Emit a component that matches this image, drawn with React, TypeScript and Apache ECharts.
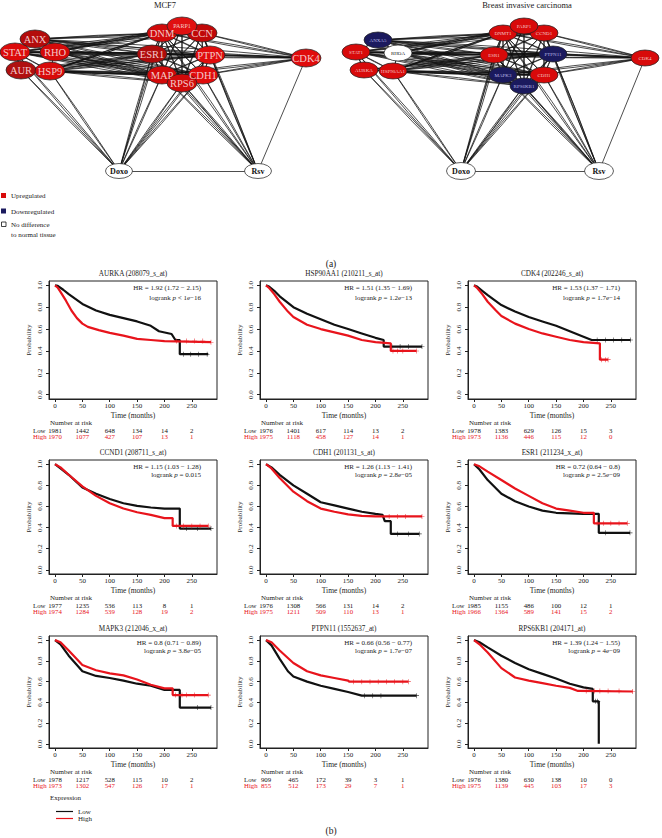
import React, { useEffect, useRef } from "react";
import * as echarts from "echarts";

type Pt = [number, number];

const W = 662;
const H = 838;
const FONT = '"Liberation Serif", "DejaVu Serif", "Times New Roman", serif';
const RED = "#e8141c";
const BLACK = "#111111";
const NODE_RED = "#d80a0a";
const NODE_NAVY = "#1b1a5e";

// ---------------- Network (a) ----------------
const MCF7_POS: Record<string, [number, number]> = {
  ANXA5: [35, 39], STAT1: [15, 52], RHOA: [55, 52], AURKA: [21, 70], HSP90AA1: [50, 71],
  DNMT1: [162, 33], PARP1: [182, 26], CCND1: [202, 33], ESR1: [152, 54], PTPN11: [210, 55],
  MAPK3: [162, 75], CDH1: [203, 75], RPS6KB1: [182, 83], CDK4: [306, 58], Doxo: [119, 171], Rsv: [258, 171],
};
const BRCA_POS: Record<string, [number, number]> = {
  ANXA5: [378, 40], STAT1: [356, 52], RHOA: [398, 53], AURKA: [364, 70], HSP90AA1: [393, 71],
  DNMT1: [503, 33], PARP1: [524, 26], CCND1: [544, 33], ESR1: [494, 55], PTPN11: [553, 54],
  MAPK3: [503, 75], CDH1: [544, 75], RPS6KB1: [524, 86], CDK4: [645, 58], Doxo: [461, 171], Rsv: [599, 171],
};
const NODE_ORDER = ["Doxo", "Rsv", "ANXA5", "STAT1", "RHOA", "AURKA", "HSP90AA1", "DNMT1", "CCND1", "PARP1", "ESR1", "PTPN11", "MAPK3", "CDH1", "RPS6KB1", "CDK4"];
const MCF7_COLORS: Record<string, string> = {
  ANXA5: "#b30c0c", STAT1: "#dc0b0b", RHOA: "#d40a0a", AURKA: "#b01010", HSP90AA1: "#d80a0a",
  DNMT1: "#d00a0a", PARP1: "#e01010", CCND1: "#c00808", ESR1: "#b00c0c", PTPN11: "#e00c0c",
  MAPK3: "#d20a0a", CDH1: "#e00c0c", RPS6KB1: "#d00a0a", CDK4: "#e00c0c", Doxo: "#ffffff", Rsv: "#ffffff",
};
const BRCA_COLORS: Record<string, string> = {
  ANXA5: NODE_NAVY, STAT1: NODE_RED, RHOA: "#ffffff", AURKA: NODE_RED, HSP90AA1: NODE_RED,
  DNMT1: NODE_RED, PARP1: NODE_RED, CCND1: NODE_RED, ESR1: NODE_RED, PTPN11: NODE_NAVY,
  MAPK3: NODE_NAVY, CDH1: NODE_RED, RPS6KB1: NODE_NAVY, CDK4: NODE_RED, Doxo: "#ffffff", Rsv: "#ffffff",
};
const EDGES: [string, string][] = [
  ["ANXA5", "STAT1"], ["ANXA5", "RHOA"], ["STAT1", "RHOA"], ["STAT1", "AURKA"], ["RHOA", "HSP90AA1"], ["AURKA", "HSP90AA1"], ["STAT1", "HSP90AA1"],
  ["ANXA5", "DNMT1"], ["ANXA5", "CCND1"], ["ANXA5", "ESR1"], ["ANXA5", "PTPN11"], ["ANXA5", "MAPK3"], ["ANXA5", "CDH1"],
  ["STAT1", "DNMT1"], ["STAT1", "CCND1"], ["STAT1", "ESR1"], ["STAT1", "PTPN11"], ["STAT1", "MAPK3"], ["STAT1", "CDH1"], ["STAT1", "RPS6KB1"],
  ["RHOA", "DNMT1"], ["RHOA", "PARP1"], ["RHOA", "ESR1"], ["RHOA", "PTPN11"], ["RHOA", "MAPK3"], ["RHOA", "CDH1"], ["RHOA", "RPS6KB1"],
  ["AURKA", "ESR1"], ["AURKA", "MAPK3"], ["AURKA", "CDH1"], ["AURKA", "PTPN11"],
  ["HSP90AA1", "DNMT1"], ["HSP90AA1", "ESR1"], ["HSP90AA1", "PTPN11"], ["HSP90AA1", "MAPK3"], ["HSP90AA1", "CDH1"], ["HSP90AA1", "RPS6KB1"], ["HSP90AA1", "PARP1"],
  ["DNMT1", "PARP1"], ["DNMT1", "CCND1"], ["DNMT1", "ESR1"], ["DNMT1", "PTPN11"], ["DNMT1", "MAPK3"], ["DNMT1", "CDH1"], ["DNMT1", "RPS6KB1"],
  ["PARP1", "CCND1"], ["PARP1", "ESR1"], ["PARP1", "PTPN11"], ["PARP1", "MAPK3"], ["PARP1", "RPS6KB1"],
  ["CCND1", "ESR1"], ["CCND1", "PTPN11"], ["CCND1", "MAPK3"], ["CCND1", "CDH1"], ["CCND1", "RPS6KB1"],
  ["ESR1", "PTPN11"], ["ESR1", "MAPK3"], ["ESR1", "CDH1"], ["ESR1", "RPS6KB1"],
  ["PTPN11", "MAPK3"], ["PTPN11", "CDH1"], ["PTPN11", "RPS6KB1"],
  ["MAPK3", "CDH1"], ["MAPK3", "RPS6KB1"], ["CDH1", "RPS6KB1"],
  ["CDK4", "DNMT1"], ["CDK4", "CCND1"], ["CDK4", "ESR1"], ["CDK4", "PTPN11"], ["CDK4", "CDH1"], ["CDK4", "MAPK3"], ["CDK4", "ANXA5"], ["CDK4", "STAT1"],
  ["Doxo", "STAT1"], ["Doxo", "AURKA"], ["Doxo", "HSP90AA1"], ["Doxo", "ESR1"], ["Doxo", "MAPK3"], ["Doxo", "RPS6KB1"], ["Doxo", "CDH1"], ["Doxo", "DNMT1"], ["Doxo", "PTPN11"],
  ["Rsv", "ESR1"], ["Rsv", "MAPK3"], ["Rsv", "RPS6KB1"], ["Rsv", "CDH1"], ["Rsv", "PTPN11"], ["Rsv", "DNMT1"], ["Rsv", "CCND1"],
];
const SINGLE_EDGES: [string, string][] = [["Doxo", "Rsv"], ["Rsv", "CDK4"]];

// ---------------- Kaplan-Meier panels (b) ----------------
const TITLES = [
  "AURKA (208079_s_at)", "HSP90AA1 (210211_s_at)", "CDK4 (202246_s_at)",
  "CCND1 (208711_s_at)", "CDH1 (201131_s_at)", "ESR1 (211234_x_at)",
  "MAPK3 (212046_x_at)", "PTPN11 (1552637_at)", "RPS6KB1 (204171_at)",
];
const HR_TEXT = [
  "HR = 1.92 (1.72 \u2212 2.15)", "HR = 1.51 (1.35 \u2212 1.69)", "HR = 1.53 (1.37 \u2212 1.71)",
  "HR = 1.15 (1.03 \u2212 1.28)", "HR = 1.26 (1.13 \u2212 1.41)", "HR = 0.72 (0.64 \u2212 0.8)",
  "HR = 0.8 (0.71 \u2212 0.89)", "HR = 0.66 (0.56 \u2212 0.77)", "HR = 1.39 (1.24 \u2212 1.55)",
];
const P_TEXT = [
  "< 1e\u221216", "= 1.2e\u221213", "= 1.7e\u221214",
  "= 0.015", "= 2.8e\u221205", "= 2.5e\u221209",
  "= 3.8e\u221205", "= 1.7e\u221207", "= 4e\u221209",
];
const NAR_LOW = [
  [1981, 1442, 648, 134, 14, 2], [1976, 1401, 617, 114, 13, 2], [1978, 1383, 629, 126, 15, 3],
  [1977, 1235, 536, 113, 8, 1], [1976, 1308, 566, 131, 14, 2], [1985, 1155, 486, 100, 12, 1],
  [1978, 1217, 528, 115, 10, 2], [909, 465, 172, 39, 3, 1], [1976, 1380, 630, 138, 10, 0],
];
const NAR_HIGH = [
  [1970, 1077, 427, 107, 13, 1], [1975, 1118, 458, 127, 14, 1], [1973, 1136, 446, 115, 12, 0],
  [1974, 1284, 539, 128, 19, 2], [1975, 1211, 509, 110, 13, 1], [1966, 1364, 589, 141, 15, 2],
  [1973, 1302, 547, 126, 17, 1], [855, 512, 173, 29, 7, 1], [1975, 1139, 445, 103, 17, 3],
];
const TIME_TICKS = [0, 50, 100, 150, 200, 250];
const PROB_TICKS = [0, 0.2, 0.4, 0.6, 0.8, 1.0];

const AURKA_LOW: Pt[] = [[0, 1], [5, 0.995], [15, 0.96], [25, 0.92], [50, 0.83], [75, 0.77], [100, 0.73], [125, 0.7], [150, 0.67], [175, 0.63], [190, 0.58], [213, 0.555], [220, 0.5], [228, 0.5], [228, 0.37], [280, 0.37]];
const AURKA_HIGH: Pt[] = [[0, 1], [5, 0.98], [10, 0.94], [20, 0.86], [30, 0.77], [40, 0.7], [50, 0.65], [60, 0.62], [80, 0.59], [100, 0.565], [125, 0.54], [150, 0.51], [175, 0.5], [200, 0.49], [285, 0.48]];
const HSP_LOW: Pt[] = [[0, 1], [5, 0.99], [15, 0.95], [25, 0.9], [50, 0.8], [75, 0.74], [100, 0.69], [125, 0.64], [150, 0.6], [175, 0.56], [200, 0.52], [215, 0.5], [215, 0.44], [285, 0.44]];
const HSP_HIGH: Pt[] = [[0, 1], [5, 0.98], [15, 0.92], [25, 0.85], [40, 0.76], [50, 0.71], [75, 0.64], [100, 0.6], [125, 0.57], [150, 0.54], [175, 0.5], [200, 0.48], [228, 0.47], [228, 0.4], [275, 0.4]];
const CDK4_LOW: Pt[] = [[0, 1], [5, 0.99], [15, 0.95], [25, 0.91], [50, 0.82], [75, 0.76], [100, 0.71], [125, 0.67], [150, 0.63], [175, 0.58], [200, 0.53], [215, 0.5], [286, 0.5]];
const CDK4_HIGH: Pt[] = [[0, 1], [5, 0.98], [15, 0.92], [25, 0.85], [40, 0.77], [50, 0.72], [75, 0.65], [100, 0.6], [125, 0.56], [150, 0.53], [175, 0.5], [200, 0.48], [230, 0.47], [230, 0.32], [245, 0.32]];
const CCND1_LOW: Pt[] = [[0, 1], [10, 0.96], [25, 0.9], [50, 0.78], [75, 0.72], [100, 0.67], [125, 0.63], [150, 0.605], [175, 0.59], [200, 0.58], [228, 0.58], [228, 0.39], [285, 0.39]];
const CCND1_HIGH: Pt[] = [[0, 1], [10, 0.97], [25, 0.9], [50, 0.79], [75, 0.7], [100, 0.63], [125, 0.58], [150, 0.545], [175, 0.52], [200, 0.49], [215, 0.49], [215, 0.415], [280, 0.415]];
const CDH1_LOW: Pt[] = [[0, 1], [10, 0.97], [25, 0.9], [50, 0.8], [75, 0.72], [100, 0.64], [125, 0.61], [150, 0.58], [175, 0.55], [200, 0.53], [213, 0.52], [217, 0.46], [228, 0.46], [228, 0.34], [280, 0.34]];
const CDH1_HIGH: Pt[] = [[0, 1], [10, 0.96], [25, 0.87], [50, 0.74], [75, 0.65], [100, 0.58], [125, 0.55], [150, 0.525], [175, 0.51], [200, 0.505], [285, 0.505]];
const ESR1_LOW: Pt[] = [[0, 1], [10, 0.95], [25, 0.85], [50, 0.72], [75, 0.65], [100, 0.6], [125, 0.56], [150, 0.54], [175, 0.535], [200, 0.53], [228, 0.53], [228, 0.35], [285, 0.35]];
const ESR1_HIGH: Pt[] = [[0, 1], [10, 0.98], [25, 0.93], [50, 0.85], [75, 0.77], [100, 0.7], [125, 0.63], [150, 0.58], [175, 0.56], [200, 0.54], [219, 0.54], [219, 0.44], [280, 0.44]];
const MAPK3_LOW: Pt[] = [[0, 1], [10, 0.96], [25, 0.85], [40, 0.76], [50, 0.7], [75, 0.655], [100, 0.635], [125, 0.61], [150, 0.58], [175, 0.56], [200, 0.52], [228, 0.52], [228, 0.35], [285, 0.35]];
const MAPK3_HIGH: Pt[] = [[0, 1], [10, 0.98], [25, 0.9], [50, 0.76], [75, 0.71], [100, 0.68], [125, 0.66], [150, 0.62], [175, 0.57], [200, 0.535], [215, 0.535], [215, 0.47], [280, 0.47]];
const PTPN11_LOW: Pt[] = [[0, 1], [10, 0.95], [25, 0.82], [40, 0.7], [50, 0.65], [75, 0.6], [100, 0.56], [125, 0.53], [150, 0.5], [175, 0.465], [275, 0.465]];
const PTPN11_HIGH: Pt[] = [[0, 1], [10, 0.98], [25, 0.9], [50, 0.78], [75, 0.7], [100, 0.66], [125, 0.635], [150, 0.61], [152, 0.6], [260, 0.6]];
const RPS6KB1_LOW: Pt[] = [[0, 1], [10, 0.98], [25, 0.93], [50, 0.85], [75, 0.78], [100, 0.72], [125, 0.675], [150, 0.63], [175, 0.58], [200, 0.545], [217, 0.53], [217, 0.41], [228, 0.41], [228, 0]];
const RPS6KB1_HIGH: Pt[] = [[0, 1], [10, 0.96], [25, 0.88], [50, 0.73], [75, 0.64], [100, 0.61], [125, 0.585], [150, 0.56], [175, 0.54], [190, 0.51], [290, 0.505]];

const CURVES_LOW = [AURKA_LOW, HSP_LOW, CDK4_LOW, CCND1_LOW, CDH1_LOW, ESR1_LOW, MAPK3_LOW, PTPN11_LOW, RPS6KB1_LOW];
const CURVES_HIGH = [AURKA_HIGH, HSP_HIGH, CDK4_HIGH, CCND1_HIGH, CDH1_HIGH, ESR1_HIGH, MAPK3_HIGH, PTPN11_HIGH, RPS6KB1_HIGH];
const CENS_LOW = [
  [235, 248, 262, 278], [230, 245, 260, 285], [225, 240, 255, 270, 286],
  [240, 260, 285], [240, 260, 280], [240, 285],
  [260, 285], [180, 195, 210, 275], [222, 226],
];
const CENS_HIGH = [
  [222, 240, 255, 270, 285], [232, 240, 250, 275], [233, 240, 245],
  [222, 235, 250, 265, 280], [225, 240, 255, 285], [225, 237, 250, 265, 280],
  [220, 232, 240, 255, 280], [160, 175, 190, 205, 220, 235, 250, 260], [205, 220, 230, 245, 265, 290],
];

// layout
const COL_LEFT = [49, 260, 468];
const BOX_W = 168;
const ROW_TOP = [281, 460, 636];
const ROW_H = [118, 114, 112];
const X_MIN = -11;
const X_MAX = 296;

const ELLIPSE = "path://M0,50A50,50,0,1,0,100,50A50,50,0,1,0,0,50Z";
const PLUS = "path://M0,4.4h10v1.2h-10zM4.4,0h1.2v10h-1.2z";

function survAt(curve: Pt[], t: number): number {
  let y = curve[0][1];
  for (const [x, s] of curve) {
    if (x <= t) y = s;
    else break;
  }
  return y;
}

function txt(x: number, y: number, text: string, o: any = {}): any {
  return {
    type: "text",
    x,
    y,
    silent: true,
    style: {
      text,
      fontSize: o.fontSize ?? 7,
      fontFamily: FONT,
      fill: o.fill ?? "#1a1a1a",
      align: o.align ?? "left",
      verticalAlign: "middle",
      fontWeight: o.fontWeight ?? "normal",
      rich: o.rich,
    },
  };
}

function buildNetwork(pos: Record<string, [number, number]>, colors: Record<string, string>, big: boolean): any {
  const nodes = NODE_ORDER.map((n) => {
    const isDrug = n === "Doxo" || n === "Rsv";
    const size: [number, number] = isDrug ? (big ? [27, 15] : [29, 17]) : big ? [30, 18] : [28, 16];
    const fill = colors[n];
    let labelColor = "#f3c9c9";
    if (fill === NODE_NAVY) labelColor = "#b9b9e6";
    if (fill === "#ffffff") labelColor = "#111";
    let fontSize = big ? 10.5 : 5;
    if (big && n === "PARP1") fontSize = 6;
    if (isDrug) fontSize = 8;
    return {
      name: n,
      value: pos[n],
      symbol: ELLIPSE,
      symbolSize: size,
      itemStyle: { color: fill, borderColor: "#222", borderWidth: 0.7 },
      label: {
        show: true,
        position: "inside",
        color: labelColor,
        fontSize,
        fontFamily: FONT,
        fontWeight: isDrug ? "bold" : "normal",
        width: size[0] - 1,
        overflow: "truncate",
        ellipsis: "",
      },
    };
  });
  const links: any[] = [];
  EDGES.forEach(([a, b]) => {
    links.push({ source: a, target: b, lineStyle: { curveness: 0.012 } });
    links.push({ source: b, target: a, lineStyle: { curveness: 0.012 } });
  });
  SINGLE_EDGES.forEach(([a, b]) => links.push({ source: a, target: b, lineStyle: { curveness: 0 } }));
  return {
    type: "graph",
    layout: "none",
    coordinateSystem: "cartesian2d",
    xAxisIndex: 0,
    yAxisIndex: 0,
    silent: true,
    roam: false,
    data: nodes,
    links,
    edgeSymbol: ["none", "none"],
    lineStyle: { color: "#111", width: 0.75, opacity: 1 },
    emphasis: { disabled: true },
  };
}

function buildOption(): any {
  const grids: any[] = [{ left: 0, top: 0, width: W, height: H, show: false }];
  const xAxes: any[] = [{ gridIndex: 0, type: "value", min: 0, max: W, show: false }];
  const yAxes: any[] = [{ gridIndex: 0, type: "value", min: 0, max: H, inverse: true, show: false }];
  const series: any[] = [buildNetwork(MCF7_POS, MCF7_COLORS, true), buildNetwork(BRCA_POS, BRCA_COLORS, false)];
  const graphics: any[] = [];

  // network titles and legend
  graphics.push(txt(165, 5, "MCF7", { align: "center", fontSize: 8.5 }));
  graphics.push(txt(527, 5, "Breast invasive carcinoma", { align: "center", fontSize: 8.5 }));
  graphics.push({ type: "rect", shape: { x: 1, y: 193, width: 5, height: 5 }, style: { fill: NODE_RED }, silent: true });
  graphics.push({ type: "rect", shape: { x: 1, y: 208.5, width: 5, height: 5 }, style: { fill: NODE_NAVY }, silent: true });
  graphics.push({ type: "rect", shape: { x: 1.5, y: 222, width: 4.5, height: 4.5 }, style: { fill: "#fff", stroke: "#111", lineWidth: 0.8 }, silent: true });
  graphics.push(txt(11, 196, "Upregulated"));
  graphics.push(txt(11, 212, "Downregulated"));
  graphics.push(txt(11, 225, "No difference"));
  graphics.push(txt(11, 235, "to normal tissue"));
  graphics.push(txt(331, 264, "(a)", { align: "center", fontSize: 9.5 }));
  graphics.push(txt(331, 831, "(b)", { align: "center", fontSize: 9.5 }));
  graphics.push(txt(50, 798, "Expression"));

  const axisFont = { fontSize: 7, fontFamily: FONT, color: "#222" };

  for (let i = 0; i < 9; i++) {
    const r = Math.floor(i / 3);
    const c = i % 3;
    const left = COL_LEFT[c];
    const top = ROW_TOP[r];
    const h = ROW_H[r];
    const bottom = top + h;
    const g = i + 1;
    grids.push({ left, top, width: BOX_W, height: h, show: true, borderColor: "#222", borderWidth: 1, backgroundColor: "transparent" });

    const xi = xAxes.length;
    xAxes.push({
      gridIndex: g, type: "value", min: X_MIN, max: X_MAX, position: "bottom",
      splitLine: { show: false },
      axisLine: { show: true, onZero: false, lineStyle: { color: "#222", width: 1 } },
      axisTick: { show: true, customValues: TIME_TICKS, length: 3, lineStyle: { color: "#222" } },
      axisLabel: { ...axisFont, customValues: TIME_TICKS, margin: 3 },
      name: "Time (months)", nameLocation: "middle", nameGap: 12,
      nameTextStyle: { fontSize: 7.5, fontFamily: FONT, color: "#222" },
    });
    const narLow = NAR_LOW[i];
    const narHigh = NAR_HIGH[i];
    xAxes.push({
      gridIndex: g, type: "value", min: X_MIN, max: X_MAX, position: "bottom", offset: 27.5,
      splitLine: { show: false }, axisLine: { show: false, onZero: false }, axisTick: { show: false },
      axisLabel: { customValues: TIME_TICKS, margin: 0, fontSize: 6.8, fontFamily: FONT, color: "#111", formatter: (v: number) => String(narLow[Math.round(v / 50)]) },
    });
    xAxes.push({
      gridIndex: g, type: "value", min: X_MIN, max: X_MAX, position: "bottom", offset: 34,
      splitLine: { show: false }, axisLine: { show: false, onZero: false }, axisTick: { show: false },
      axisLabel: { customValues: TIME_TICKS, margin: 0, fontSize: 6.8, fontFamily: FONT, color: RED, formatter: (v: number) => String(narHigh[Math.round(v / 50)]) },
    });
    const yi = yAxes.length;
    yAxes.push({
      gridIndex: g, type: "value", min: -0.04, max: 1.04,
      splitLine: { show: false },
      axisLine: { show: true, onZero: false, lineStyle: { color: "#222", width: 1 } },
      axisTick: { show: true, customValues: PROB_TICKS, length: 3, lineStyle: { color: "#222" } },
      axisLabel: { ...axisFont, customValues: PROB_TICKS, rotate: 90, margin: 6, formatter: (v: number) => v.toFixed(1) },
      name: "Probability", nameLocation: "middle", nameGap: 17, nameRotate: 90,
      nameTextStyle: { fontSize: 7, fontFamily: FONT, color: "#222" },
    });

    series.push({
      type: "line", name: "Low", xAxisIndex: xi, yAxisIndex: yi, data: CURVES_LOW[i], symbol: "none",
      lineStyle: { color: BLACK, width: 2.2 }, itemStyle: { color: BLACK }, silent: true, clip: true, z: 3,
    });
    series.push({
      type: "line", name: "High", xAxisIndex: xi, yAxisIndex: yi, data: CURVES_HIGH[i], symbol: "none",
      lineStyle: { color: RED, width: 2.2 }, itemStyle: { color: RED }, silent: true, clip: true, z: 4,
    });
    series.push({
      type: "scatter", name: "LowCensor", xAxisIndex: xi, yAxisIndex: yi,
      data: CENS_LOW[i].map((t) => [t, survAt(CURVES_LOW[i], t)]),
      symbol: PLUS, symbolSize: 5, itemStyle: { color: BLACK }, silent: true, z: 3,
    });
    series.push({
      type: "scatter", name: "HighCensor", xAxisIndex: xi, yAxisIndex: yi,
      data: CENS_HIGH[i].map((t) => [t, survAt(CURVES_HIGH[i], t)]),
      symbol: PLUS, symbolSize: 5, itemStyle: { color: RED }, silent: true, z: 4,
    });

    // texts
    graphics.push(txt(left + BOX_W / 2, top - 7, TITLES[i], { align: "center", fontSize: 7.2 }));
    const right = left + BOX_W - 16;
    const hrY = top + 6.5;
    graphics.push(txt(right, hrY, HR_TEXT[i], { align: "right" }));
    graphics.push(
      txt(right, hrY + (r === 0 ? 10 : 8.5), "logrank {i|p} " + P_TEXT[i], {
        align: "right",
        rich: { i: { fontStyle: "italic", fontSize: 7, fontFamily: FONT, fill: "#1a1a1a" } },
      })
    );
    graphics.push(txt(left + 1, bottom + 23.5, "Number at risk"));
    graphics.push(txt(left - 16, bottom + 31, "Low", { fontSize: 6.8 }));
    graphics.push(txt(left - 16, bottom + 37.5, "High", { fontSize: 6.8, fill: RED }));
  }

  return {
    animation: false,
    backgroundColor: "#ffffff",
    grid: grids,
    xAxis: xAxes,
    yAxis: yAxes,
    series,
    graphic: graphics,
    legend: {
      data: [
        { name: "Low", icon: "rect" },
        { name: "High", icon: "rect" },
      ],
      orient: "vertical",
      left: 51,
      top: 803,
      itemWidth: 17,
      itemHeight: 1.2,
      itemGap: 0,
      selectedMode: false,
      textStyle: { fontSize: 7, fontFamily: FONT, color: "#222", lineHeight: 7 },
    },
  };
}

export default function App() {
  const ref = useRef<HTMLDivElement>(null);
  useEffect(() => {
    document.body.style.margin = "0";
    if (!ref.current) return;
    const chart = echarts.init(ref.current, undefined, { renderer: "svg" });
    chart.setOption(buildOption());
    return () => chart.dispose();
  }, []);
  return <div ref={ref} style={{ width: W, height: H, background: "#fff" }} />;
}
